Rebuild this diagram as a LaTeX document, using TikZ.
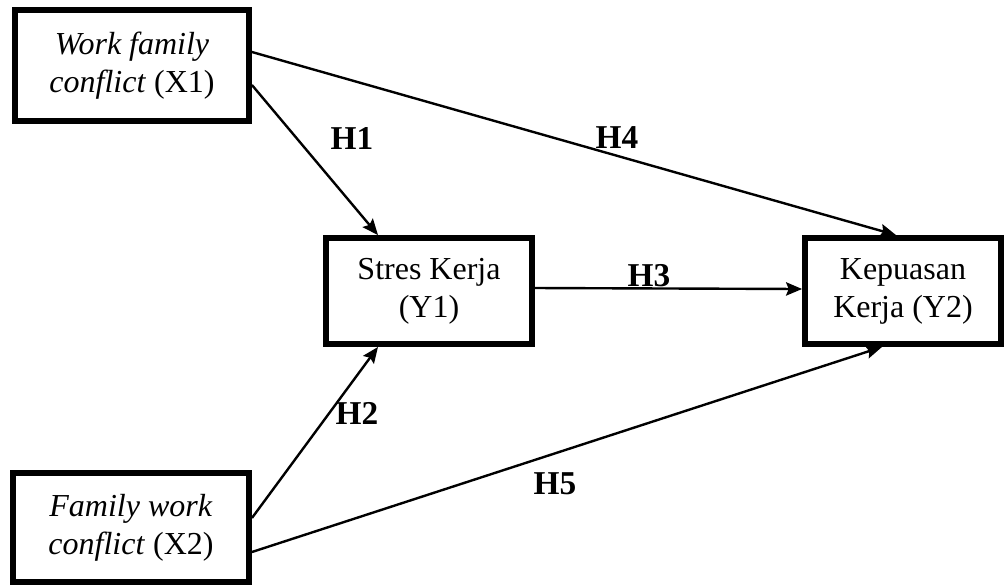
\documentclass[tikz,border=0pt]{standalone}
\usepackage{fontspec}
\setmainfont{Liberation Serif}
\usetikzlibrary{arrows.meta, calc}

\begin{document}
\begin{tikzpicture}[
    x=0.75pt, y=-0.75pt,
    varbox/.style={rectangle, draw=black, line width=4.4pt, fill=white, align=center,
                inner sep=0pt, font=\fontsize{24}{28.5}\selectfont},
    hlabel/.style={font=\fontsize{25}{28}\selectfont\bfseries, inner sep=0pt},
    arrow/.style={-{Stealth[length=12pt, width=10pt, inset=2pt]}, line width=1.8pt, black}
]
\useasboundingbox (0,0) rectangle (1006,587);

\node[varbox, minimum width=175.5pt, minimum height=83pt] (x1) at (132,65.5)
    {\textit{Work family}\\\textit{conflict} (X1)};
\node[varbox, minimum width=177pt, minimum height=81.5pt] (x2) at (131,527.5)
    {\textit{Family work}\\\textit{conflict} (X2)};
\node[varbox, minimum width=154.5pt, minimum height=79.5pt] (y1) at (429,291)
    {Stres Kerja\\(Y1)};
\node[varbox, minimum width=147pt, minimum height=79.5pt] (y2) at (903,291)
    {Kepuasan\\Kerja (Y2)};

% Hypothesis paths
\draw[arrow] ($(x1.east)+(0,19.5)$) -- ($(y1.north)+(-51,0)$);
\draw[arrow] ($(x1.east)+(0,-13.5)$) -- ($(y2.north)+(-7,0)$);
\draw[arrow] ($(y1.east)+(0,-3)$) -- ($(y2.west)+(0,-2)$);
\draw[arrow] ($(x2.east)+(0,-9.5)$) -- ($(y1.south)+(-51,0)$);
\draw[arrow] ($(x2.east)+(0,24.5)$) -- ($(y2.south)+(-21,0)$);

\node[hlabel] (h1) at (352,138) {H1};
\node[hlabel] (h4) at (617,138) {H4};
\node[hlabel] (h3) at (649,276) {H3};
\node[hlabel] (h2) at (357,413) {H2};
\node[hlabel] (h5) at (555,484) {H5};

\end{tikzpicture}
\end{document}
